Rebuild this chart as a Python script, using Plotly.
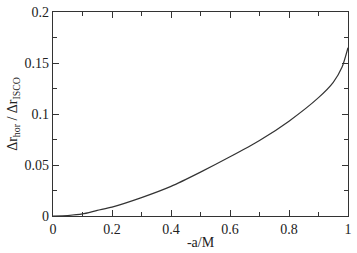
import plotly.graph_objects as go

a_over_m = [0, 0.05, 0.1, 0.15, 0.2, 0.3, 0.4, 0.5, 0.6, 0.7, 0.8, 0.9, 0.95, 0.98, 1.0]
ratio = [0, 0.0005, 0.002, 0.0055, 0.0087, 0.018, 0.029, 0.043, 0.058, 0.074, 0.093, 0.116, 0.131, 0.146, 0.165]

fig = go.Figure()
fig.add_trace(go.Scatter(x=a_over_m, y=ratio, mode="lines", line=dict(color="#333333", width=1.2, shape="spline", smoothing=0.6), showlegend=False))

font = dict(family="Liberation Serif", size=14, color="#222222")
axis_common = dict(showline=True, linecolor="#333333", linewidth=1.3, mirror="allticks",
                   ticks="inside", ticklen=6, tickwidth=1.2, tickcolor="#333333", showgrid=False, zeroline=False,
                   tickfont=font, tickmode="linear", tick0=0)
fig.update_xaxes(range=[0, 1], dtick=0.2,
                 minor=dict(dtick=0.1, tick0=0, ticks="inside", ticklen=4, tickwidth=1.2, tickcolor="#333333", showgrid=False),
                 title=dict(text="-a/M", font=font, standoff=1), **axis_common)
fig.update_yaxes(range=[0, 0.2], dtick=0.05,
                 minor=dict(dtick=0.025, tick0=0, ticks="inside", ticklen=4, tickwidth=1.2, tickcolor="#333333", showgrid=False),
                 title=dict(text="Δr<sub>hor</sub> / Δr<sub>ISCO</sub>", font=font, standoff=3), **axis_common)
fig.update_layout(width=357, height=253, margin=dict(l=53, r=5, t=12, b=27),
                  paper_bgcolor="white", plot_bgcolor="white", font=font)
fig.write_html("out.html")
